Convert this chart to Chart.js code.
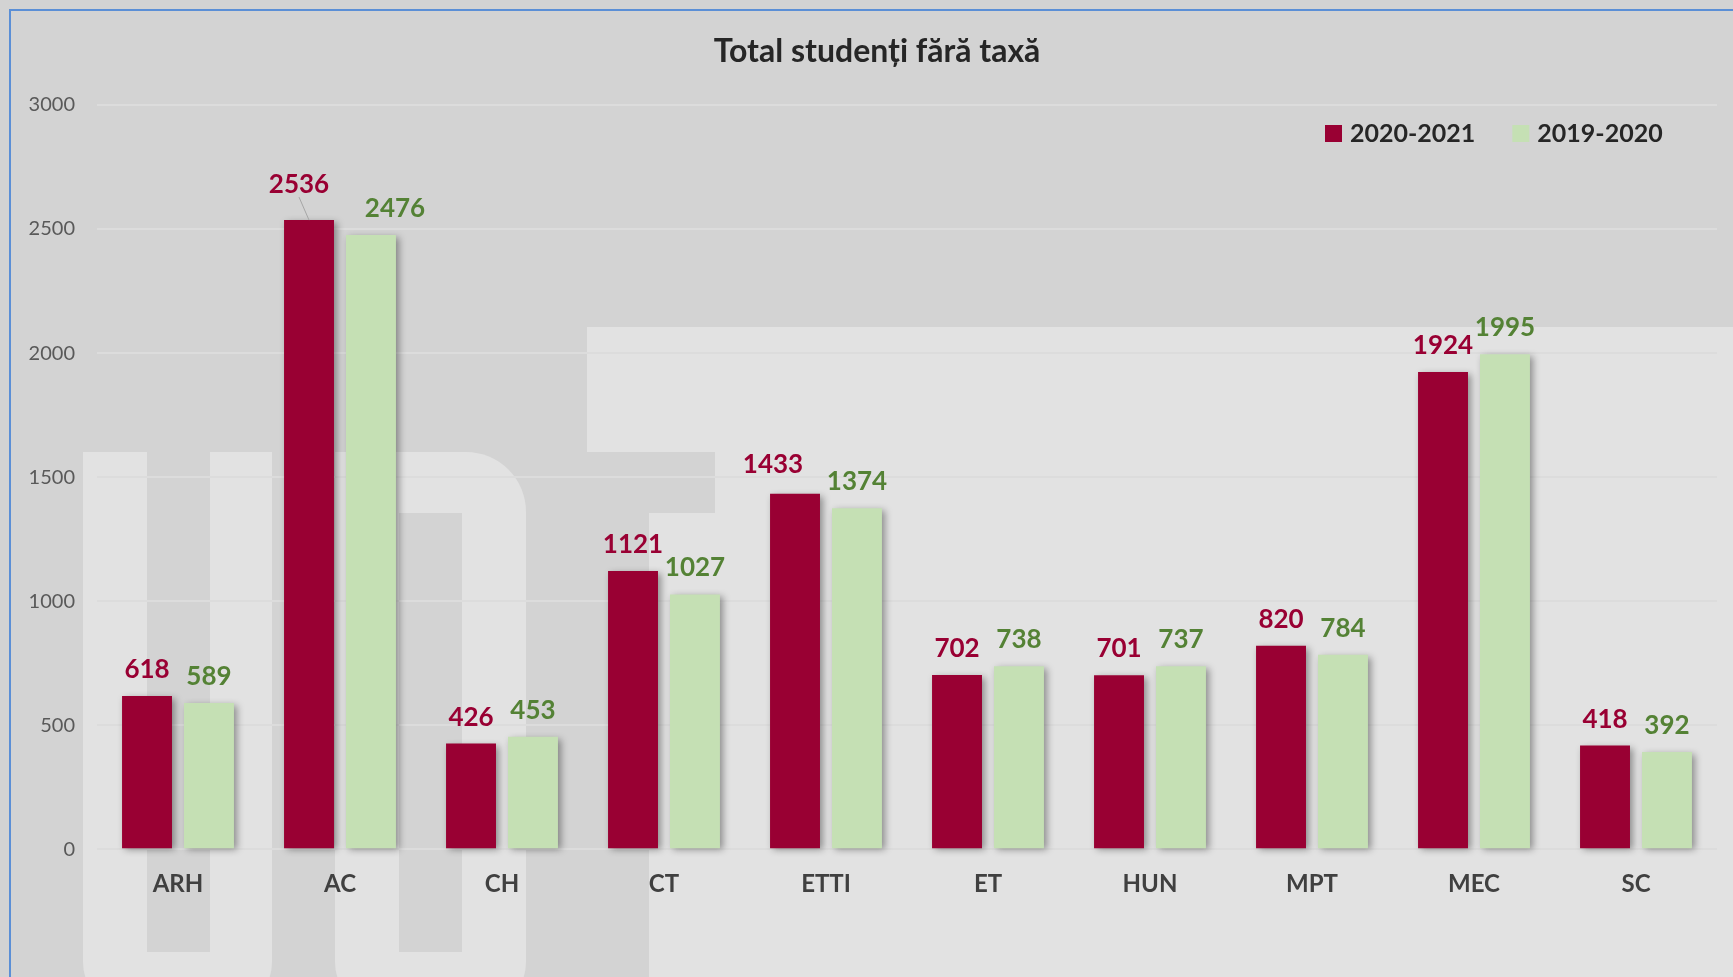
<!DOCTYPE html>
<html>
<head>
<meta charset="utf-8">
<script src="https://cdn.jsdelivr.net/npm/chart.js@4.4.1/dist/chart.umd.min.js"></script>
<style>
  body { margin: 0; background: #d3d3d3; }
  #chart-con { width: 1733px; height: 977px; }
</style>
</head>
<body>
<div id="chart-con"><canvas id="my-chart"></canvas></div>
<script>
const faculties = ['ARH', 'AC', 'CH', 'CT', 'ETTI', 'ET', 'HUN', 'MPT', 'MEC', 'SC'];
const students2021 = [618, 2536, 426, 1121, 1433, 702, 701, 820, 1924, 418];
const students2020 = [589, 2476, 453, 1027, 1374, 738, 737, 784, 1995, 392];
const yTicks = [0, 500, 1000, 1500, 2000, 2500, 3000];
const chartTitle = 'Total studenți fără taxă';

const darkBg = '#d3d3d3';
const lightBg = '#e2e2e2';

// grey background with the faded "UPT" letters behind the plot
const background = {
    id: 'background',
    beforeDraw(chart) {
        const ctx = chart.ctx;
        ctx.save();
        ctx.fillStyle = darkBg;
        ctx.fillRect(0, 0, chart.width, chart.height);

        ctx.fillStyle = lightBg;
        // U
        ctx.beginPath();
        ctx.roundRect(83, 452, 189, 560, [0, 0, 50, 50]);
        ctx.fill();
        // P
        ctx.beginPath();
        ctx.roundRect(335, 452, 191, 560, [0, 60, 50, 50]);
        ctx.fill();
        // T
        ctx.fillRect(587, 327, chart.width - 587, 125);
        ctx.fillRect(715, 452, chart.width - 715, chart.height - 452);
        ctx.fillRect(649, 513, chart.width - 649, chart.height - 513);

        ctx.fillStyle = darkBg;
        ctx.fillRect(147, 440, 63, 512);
        ctx.fillRect(399, 513, 63, 439);

        // blue frame
        ctx.strokeStyle = '#5B8FD6';
        ctx.lineWidth = 2;
        ctx.beginPath();
        ctx.moveTo(10, chart.height);
        ctx.lineTo(10, 10);
        ctx.lineTo(chart.width, 10);
        ctx.stroke();

        // title
        ctx.fillStyle = '#262626';
        ctx.font = 'bold 32px Lato';
        ctx.textAlign = 'center';
        ctx.textBaseline = 'middle';
        ctx.fillText(chartTitle, 877, 52);
        ctx.restore();
    }
};

const barShadow = {
    id: 'barShadow',
    beforeDatasetsDraw(chart) {
        const ctx = chart.ctx;
        ctx.save();
        ctx.shadowColor = 'rgba(0, 0, 0, 0.38)';
        ctx.shadowBlur = 7;
        ctx.shadowOffsetX = 3;
        ctx.shadowOffsetY = 2;
    },
    afterDatasetsDraw(chart) {
        chart.ctx.restore();
    }
};

// a few labels were dragged aside in the original (dataset-index: [dx, dy])
const labelNudge = { '0-1': [-10, -9], '0-4': [-22, -3], '1-1': [24, 0] };

const valueLabels = {
    id: 'valueLabels',
    afterDraw(chart) {
        const ctx = chart.ctx;
        ctx.save();
        ctx.font = 'bold 26px Lato';
        ctx.textAlign = 'center';
        ctx.textBaseline = 'alphabetic';
        chart.data.datasets.forEach((ds, i) => {
            chart.getDatasetMeta(i).data.forEach((bar, j) => {
                const nudge = labelNudge[i + '-' + j] || [0, 0];
                const x = bar.x + nudge[0];
                const y = bar.y - 18 + nudge[1];
                if (nudge[1] < -5) {
                    ctx.strokeStyle = '#a6a6a6';
                    ctx.lineWidth = 1;
                    ctx.beginPath();
                    ctx.moveTo(x, y + 4);
                    ctx.lineTo(bar.x, bar.y);
                    ctx.stroke();
                }
                ctx.fillStyle = ds.labelColor;
                ctx.fillText(ds.data[j], x, y);
            });
        });
        ctx.restore();
    }
};

const customLegend = {
    id: 'customLegend',
    afterDraw(chart) {
        const ctx = chart.ctx;
        ctx.save();
        ctx.font = 'bold 25px Lato';
        ctx.textBaseline = 'middle';
        let x = 1325;
        chart.data.datasets.forEach(ds => {
            ctx.fillStyle = ds.backgroundColor;
            ctx.fillRect(x, 125, 17, 17);
            ctx.fillStyle = '#262626';
            ctx.fillText(ds.label, x + 25, 134);
            x += 25 + ctx.measureText(ds.label).width + 37;
        });
        ctx.restore();
    }
};

const data = {
    labels: faculties,
    datasets: [{
        label: '2020-2021',
        data: students2021,
        backgroundColor: '#990033',
        labelColor: '#990033',
        categoryPercentage: 0.765,
        barPercentage: 0.806,
        clip: false
    }, {
        label: '2019-2020',
        data: students2020,
        backgroundColor: '#C5E0B4',
        labelColor: '#548235',
        categoryPercentage: 0.765,
        barPercentage: 0.806,
        clip: false
    }]
};

const config = {
    type: 'bar',
    data,
    options: {
        responsive: true,
        maintainAspectRatio: false,
        animation: false,
        layout: {
            padding: { left: 0, right: 16, top: 105, bottom: 65 }
        },
        plugins: {
            legend: { display: false },
            tooltip: { enabled: false },
            title: { display: false }
        },
        scales: {
            x: {
                grid: { display: false },
                border: { display: false },
                ticks: {
                    color: '#404040',
                    padding: 13,
                    font: { family: 'Lato', size: 24, weight: 'bold', lineHeight: 1.2 }
                }
            },
            y: {
                min: 0,
                max: 3000,
                afterFit: s => { s.width = 97; },
                afterBuildTicks: s => { s.ticks = yTicks.map(v => ({ value: v })); },
                grid: { color: '#dcdcdc', lineWidth: 2, drawTicks: false },
                border: { display: false },
                ticks: {
                    color: '#595959',
                    padding: 22,
                    font: { family: 'Lato', size: 20 },
                    callback: v => String(v)
                }
            }
        }
    },
    plugins: [background, barShadow, valueLabels, customLegend]
};

const myChart = new Chart(document.getElementById('my-chart').getContext('2d'), config);
</script>
</body>
</html>
